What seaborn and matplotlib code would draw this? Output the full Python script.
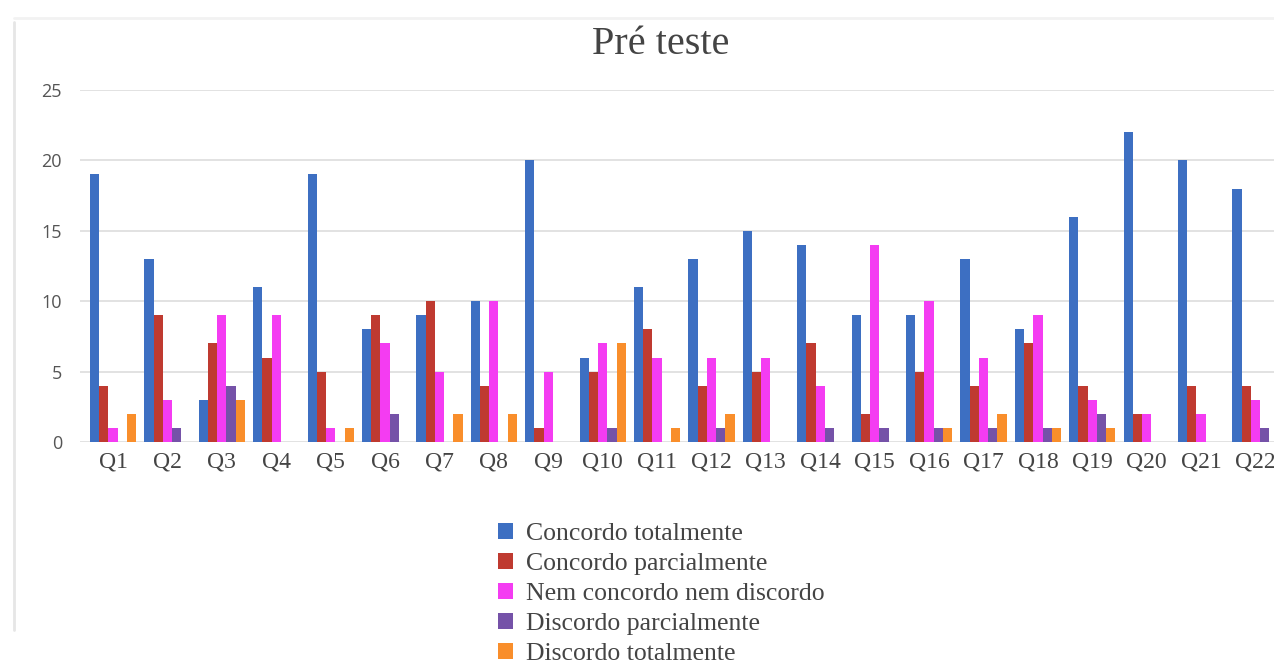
import matplotlib
matplotlib.use("Agg")
import matplotlib.pyplot as plt
from matplotlib.patches import Patch
from matplotlib.lines import Line2D
import seaborn as sns
import pandas as pd

questions = [f"Q{i}" for i in range(1, 23)]
categories = ["Concordo totalmente", "Concordo parcialmente", "Nem concordo nem discordo",
              "Discordo parcialmente", "Discordo totalmente"]
concordo_total = [19, 13, 3, 11, 19, 8, 9, 10, 20, 6, 11, 13, 15, 14, 9, 9, 13, 8, 16, 22, 20, 18]
concordo_parc = [4, 9, 7, 6, 5, 9, 10, 4, 1, 5, 8, 4, 5, 7, 2, 5, 4, 7, 4, 2, 4, 4]
nem_nem = [1, 3, 9, 9, 1, 7, 5, 10, 5, 7, 6, 6, 6, 4, 14, 10, 6, 9, 3, 2, 2, 3]
discordo_parc = [0, 1, 4, 0, 0, 2, 0, 0, 0, 1, 0, 1, 0, 1, 1, 1, 1, 1, 2, 0, 0, 1]
discordo_total = [2, 0, 3, 0, 1, 0, 2, 2, 0, 7, 1, 2, 0, 0, 0, 1, 2, 1, 1, 0, 0, 0]
colors = ["#3D6FC2", "#BF3A30", "#F43CF2", "#7552A8", "#F98E2B"]
yticks = [0, 5, 10, 15, 20, 25]

series = [concordo_total, concordo_parc, nem_nem, discordo_parc, discordo_total]
rows = []
for cat, vals in zip(categories, series):
    for q, v in zip(questions, vals):
        rows.append({"q": q, "v": v, "cat": cat})
df = pd.DataFrame(rows)

sns.set_style("white")
W, H = 1274, 669
fig = plt.figure(figsize=(W / 100, H / 100), dpi=100)
ax = fig.add_axes([80 / W, 1 - 442 / H, (W - 80) / W, (442 - 90) / H])

sns.barplot(data=df, x="q", y="v", hue="cat", hue_order=categories, order=questions,
            palette=colors, width=0.85, linewidth=0, ax=ax, legend=False,
            errorbar=None, saturation=1)

ax.set_ylim(0, 25)
ax.set_xlim(-0.607, 21.34)
ax.set_yticks(yticks)
ax.set_xlabel("")
ax.set_ylabel("")
for s in ax.spines.values():
    s.set_visible(False)
ax.set_axisbelow(True)
ax.yaxis.grid(True, color="#e2e2e2", linewidth=1.4)
ax.xaxis.grid(False)
ax.tick_params(axis="x", length=0, pad=7, labelsize=17, labelcolor="#444444")
ax.tick_params(axis="y", length=0, pad=13, labelsize=13, labelcolor="#555555")
for t in ax.get_xticklabels():
    t.set_fontfamily("Liberation Serif")
for t in ax.get_yticklabels():
    t.set_fontfamily("Open Sans")

fig.text(661 / W, 1 - 45 / H, "Pré teste", ha="center", va="center",
         fontsize=29, family="Liberation Serif", color="#444444")

handles = [Patch(facecolor=c, edgecolor="none", label=l) for c, l in zip(colors, categories)]
leg = fig.legend(handles=handles, loc="upper left", bbox_to_anchor=(485 / W, 1 - 510 / H),
                 frameon=False, borderpad=0, handlelength=0.6, handleheight=0.6,
                 handletextpad=0.5, labelspacing=0.3,
                 prop={"family": "Liberation Serif", "size": 18.5})
for t in leg.get_texts():
    t.set_color("#444444")

fig.add_artist(Line2D([14 / W, 14 / W], [1 - 630 / H, 1 - 22 / H], color="#e6e6e6", lw=2,
                      transform=fig.transFigure))
fig.add_artist(Line2D([14 / W, 1.0], [1 - 18 / H, 1 - 18 / H], color="#f2f2f2", lw=2,
                      transform=fig.transFigure))

fig.savefig("out.png", dpi=100)
